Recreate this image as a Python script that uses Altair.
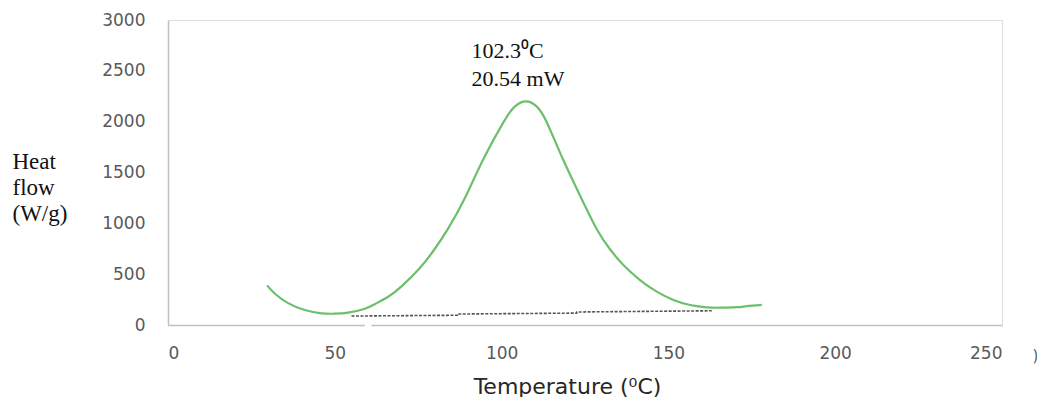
import altair as alt
import pandas as pd

# DSC curve (green)
temp = [29.7, 32, 36, 41, 46, 50, 54, 59, 62, 66, 70, 75.5, 80, 84, 89, 94.4, 100.4,
        104, 107.3, 110.5, 113.6, 118.4, 124, 128.5, 132.5, 136.5, 141.5, 146.5, 151.5,
        156.5, 161.5, 165.5, 170.5, 173.5, 178]
heat = [390, 310, 215, 147, 115, 111, 121, 160, 205, 278, 380, 560, 750, 950, 1249,
        1622, 1986, 2150, 2200, 2150, 1990, 1630, 1240, 945, 745, 590, 442, 328, 246,
        197, 174, 170, 175, 185, 197]

# baseline (grey dashed)
base_t = [55, 87, 87, 122.5, 122.5, 163]
base_h = [88, 96, 108, 117, 128, 140]

# annotation
ann_x = [91, 91]
ann_y = [2625, 2350]
ann_text = ["102.3\u2070C", "20.54 mW"]

x_ticks = [0, 50, 100, 150, 200, 250]
y_ticks = [0, 500, 1000, 1500, 2000, 2500, 3000]

curve = pd.DataFrame({"t": temp, "h": heat})
base = pd.DataFrame({"t": base_t, "h": base_h})
ann = pd.DataFrame({"t": ann_x, "h": ann_y, "label": ann_text})
stray = pd.DataFrame({"t": [260], "h": [-300], "label": [")"]})
gap = pd.DataFrame({"t": [59], "t2": [61], "h": [0]})

xs = alt.Scale(domain=[0, 250], nice=False)
ys = alt.Scale(domain=[0, 3000], nice=False)

xaxis = alt.Axis(values=x_ticks, grid=False, ticks=False, domainColor="#c0c0c0",
                 domainWidth=1.5, labelFont="DejaVu Sans", labelFontSize=17,
                 labelColor="#595959", labelPadding=20, format="d",
                 title="Temperature (\u2070C)",
                 titleFont="DejaVu Sans", titleFontSize=22, titleFontWeight="normal",
                 titleColor="#262626", titleX=399, titleY=51, titleAlign="center",
                 titleBaseline="top")
yaxis = alt.Axis(values=y_ticks, grid=False, ticks=False, domainColor="#c0c0c0",
                 domainWidth=1.5, labelFont="DejaVu Sans", labelFontSize=17,
                 labelColor="#595959", labelPadding=23, format="d",
                 title=["Heat", "flow", "(W/g)"], titleFont="Liberation Serif",
                 titleFontSize=23, titleFontWeight="normal", titleColor="#111111",
                 titleAngle=0, titleAlign="left", titleBaseline="top",
                 titleX=-156, titleY=130, titleLineHeight=26)

line = alt.Chart(curve).mark_line(color="#6cbf6c", strokeWidth=2.2,
                                  interpolate="natural").encode(
    x=alt.X("t:Q", scale=xs, axis=xaxis),
    y=alt.Y("h:Q", scale=ys, axis=yaxis),
)

bl = alt.Chart(base).mark_line(color="#555555", strokeWidth=1.6,
                               strokeDash=[3, 1.5]).encode(
    x=alt.X("t:Q", scale=xs), y=alt.Y("h:Q", scale=ys))

txt = alt.Chart(ann).mark_text(font="Liberation Serif", fontSize=22, align="left",
                               baseline="alphabetic", color="#111111").encode(
    x=alt.X("t:Q", scale=xs), y=alt.Y("h:Q", scale=ys), text="label:N")

st = alt.Chart(stray).mark_text(font="DejaVu Sans", fontSize=15, align="center",
                                baseline="middle", color="#595959").encode(
    x=alt.X("t:Q", scale=xs), y=alt.Y("h:Q", scale=ys), text="label:N")

gp = alt.Chart(gap).mark_rule(color="white", strokeWidth=4).encode(
    x=alt.X("t:Q", scale=xs), x2="t2:Q", y=alt.Y("h:Q", scale=ys))

chart = alt.layer(line, bl, txt, st, gp).properties(
    width=834, height=305,
    autosize=alt.AutoSizeParams(type="none"),
    padding={"left": 160, "top": 12, "right": 35, "bottom": 72},
).configure_view(stroke=None).configure(background="white")

chart.save("out.html", embed_options={"renderer": "svg", "actions": False})
